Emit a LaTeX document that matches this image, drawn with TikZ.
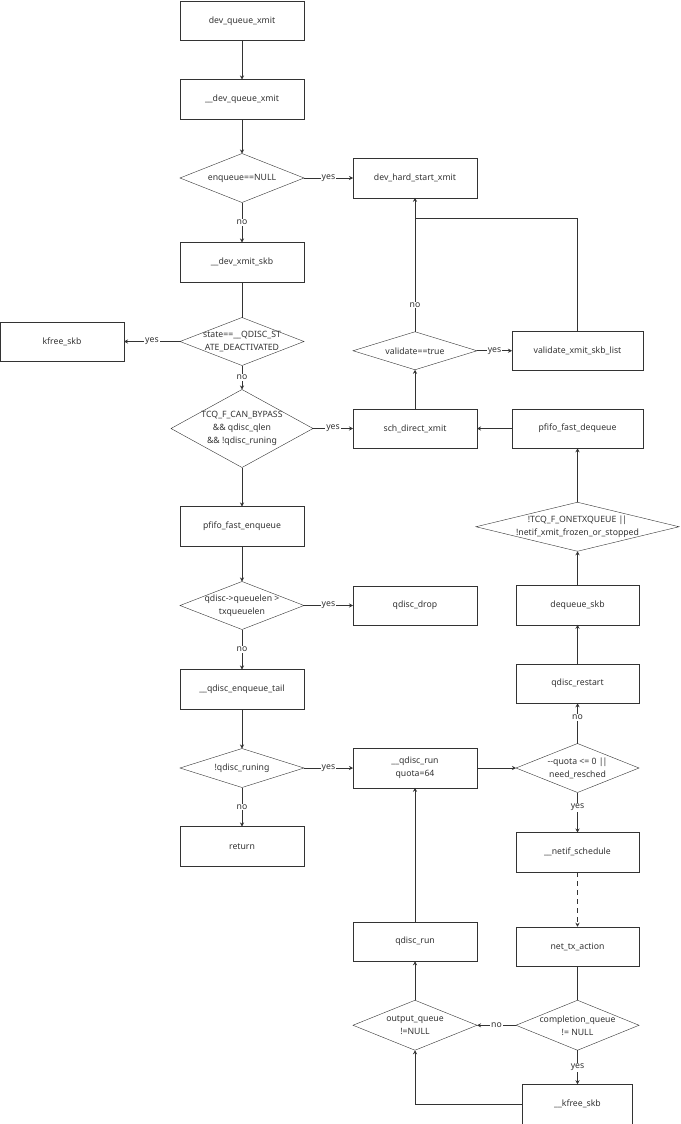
\documentclass[tikz,border=0pt]{standalone}
\usepackage{fontspec}
\setmainfont{Noto Sans}
\usepackage{xcolor}
\usetikzlibrary{arrows.meta,positioning,shapes.geometric}
\definecolor{ink}{HTML}{333333}
\newcommand{\oror}{|\kern-1pt|}

\begin{document}
\begin{tikzpicture}[x=1pt, y=-1pt, font=\fontsize{8.7}{13}\selectfont, node distance=39pt,
  box/.style={draw=ink, text=ink, align=center, minimum width=124pt, minimum height=39.5pt, inner sep=2pt, outer sep=0pt},
  dec/.style={draw=ink, diamond, inner sep=0pt, outer sep=0pt, minimum width=124pt, minimum height=49pt},
  dtext/.style={align=center, text=ink, inner sep=0pt},
  lbl/.style={fill=white, text=ink, inner sep=1pt},
  arr/.style={-{Stealth[length=4pt,width=4pt]}, draw=ink, line width=0.8pt},
  con/.style={draw=ink, line width=0.8pt}]
  \useasboundingbox (0,0) rectangle (680,1124);
  \node[box] (dqx) at (242,20.75) {dev\_queue\_xmit};
  \node[box, below=39pt of dqx] (ddqx) {\_\_dev\_queue\_xmit};
  \node[dec, below=34.5pt of ddqx, label={[dtext]center:enqueue==NULL}] (isnull) {};
  \node[box, below=40pt of isnull] (dxskb) {\_\_dev\_xmit\_skb};
  \node[dec, minimum height=48pt, below=35.5pt of dxskb, label={[dtext]center:state==\_\_QDISC\_ST\\ATE\_DEACTIVATED}] (isdeact) {};
  \node[dec, minimum width=142pt, minimum height=78pt, below=24pt of isdeact, label={[dtext]center:TCQ\_F\_CAN\_BYPASS\\\&\& qdisc\_qlen\\\&\& !qdisc\_runing}] (bypass) {};
  \node[box, below=39pt of bypass] (pfenq) {pfifo\_fast\_enqueue};
  \node[dec, minimum height=48pt, below=35.5pt of pfenq, label={[dtext]center:qdisc->queuelen >\\txqueuelen}] (toolong) {};
  \node[box, below=40pt of toolong] (enqtail) {\_\_qdisc\_enqueue\_tail};
  \node[dec, minimum height=39pt, below=39.5pt of enqtail, label={[dtext]center:!qdisc\_runing}] (notrun) {};
  \node[box, below=39pt of notrun] (ret) {return};
  \node[box, left=56pt of isdeact] (kfree) {kfree\_skb};
  \node[box, right=49pt of isnull] (hard) {dev\_hard\_start\_xmit};
  \coordinate[below=21pt of hard.south] (join);
  \node[box, right=40pt of bypass] (sch) {sch\_direct\_xmit};
  \node[dec, minimum height=38pt, above=39pt of sch, label={[dtext]center:validate==true}] (valid) {};
  \node[box, minimum width=131pt, right=35pt of valid] (vlist) {validate\_xmit\_skb\_list};
  \node[box, minimum width=131pt, right=35pt of sch] (pfdeq) {pfifo\_fast\_dequeue};
  \node[dec, minimum width=203pt, below=54pt of pfdeq, label={[dtext]center:!TCQ\_F\_ONETXQUEUE \oror\\!netif\_xmit\_frozen\_or\_stopped}] (onetx) {};
  \node[box, minimum width=123pt, below=34pt of onetx] (deq) {dequeue\_skb};
  \node[box, minimum width=123pt, below=39pt of deq] (restart) {qdisc\_restart};
  \node[box, right=49pt of toolong] (drop) {qdisc\_drop};
  \node[box, right=49pt of notrun] (qrun) {\_\_qdisc\_run\\quota=64};
  \node[dec, minimum width=123pt, right=39pt of qrun, label={[dtext]center:-{}-quota <= 0 \oror\\need\_resched}] (quota) {};
  \node[box, minimum width=123pt, below=40pt of quota] (netif) {\_\_netif\_schedule};
  \node[box, below=134pt of qrun] (qdrun) {qdisc\_run};
  \node[dec, minimum height=50pt, below=39pt of qdrun, label={[dtext]center:output\_queue\\!=NULL}] (outq) {};
  \node[dec, minimum width=123pt, minimum height=50pt, right=39pt of outq, label={[dtext]center:completion\_queue\\!= NULL}] (compq) {};
  \node[box, minimum width=123pt, above=34pt of compq] (txact) {net\_tx\_action};
  \node[box, minimum width=110pt, below=34pt of compq] (kfskb) {\_\_kfree\_skb};
  \draw[arr] (dqx) -- (ddqx);
  \draw[arr] (ddqx) -- (isnull);
  \draw[arr] (isnull) -- node[lbl]{no} (dxskb);
  \draw[arr] (isnull) -- node[lbl]{yes} (hard);
  \draw[con] (dxskb) -- (isdeact);
  \draw[arr] (isdeact) -- node[lbl]{yes} (kfree);
  \draw[arr] (isdeact) -- node[lbl]{no} (bypass);
  \draw[arr] (bypass) -- node[lbl]{yes} (sch);
  \draw[arr] (bypass) -- (pfenq);
  \draw[arr] (pfenq) -- (toolong);
  \draw[arr] (toolong) -- node[lbl]{yes} (drop);
  \draw[arr] (toolong) -- node[lbl]{no} (enqtail);
  \draw[arr] (enqtail) -- (notrun);
  \draw[arr] (notrun) -- node[lbl]{yes} (qrun);
  \draw[arr] (notrun) -- node[lbl]{no} (ret);
  \draw[arr] (sch) -- (valid);
  \draw[arr] (valid) -- node[lbl]{yes} (vlist);
  \draw[arr] (valid) -- node[lbl, pos=0.2]{no} (hard);
  \draw[con] (vlist) |- (join);
  \draw[arr] (pfdeq) -- (sch);
  \draw[arr] (onetx) -- (pfdeq);
  \draw[arr] (deq) -- (onetx);
  \draw[arr] (restart) -- (deq);
  \draw[arr] (quota) -- node[lbl, pos=0.65]{no} (restart);
  \draw[arr] (qrun) -- (quota);
  \draw[arr] (quota) -- node[lbl, pos=0.37]{yes} (netif);
  \draw[arr, dash pattern=on 5pt off 4pt] (netif) -- (txact);
  \draw[con] (txact) -- (compq);
  \draw[arr] (compq) -- node[lbl]{no} (outq);
  \draw[arr] (compq) -- node[lbl]{yes} (kfskb);
  \draw[arr] (kfskb) -| (outq);
  \draw[arr] (outq) -- (qdrun);
  \draw[arr] (qdrun) -- (qrun);
\end{tikzpicture}
\end{document}
